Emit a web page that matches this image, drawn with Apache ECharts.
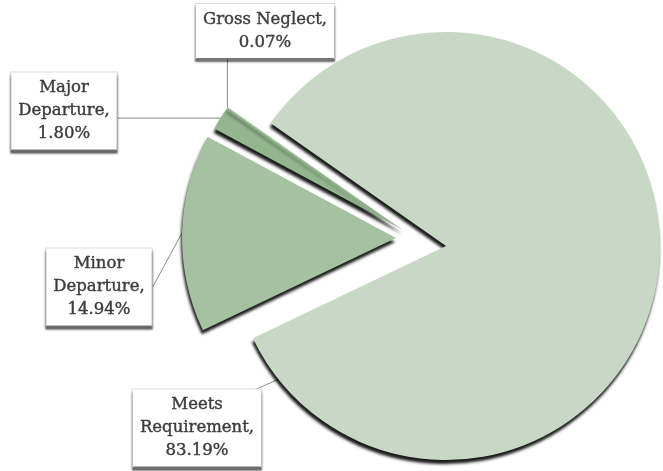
<!DOCTYPE html>
<html><head><meta charset="utf-8">
<script src="https://cdn.jsdelivr.net/npm/echarts@6/dist/echarts.min.js"></script>
<style>html,body{margin:0;padding:0;background:#fff}#c{width:663px;height:471px}</style>
</head><body><div id="c"></div>
<script>
// ---- data ----
const categories = ['Meets Requirement', 'Minor Departure', 'Major Departure', 'Gross Neglect'];
const values = [83.19, 14.94, 1.80, 0.07];
const breakName = [true, true, true, false];

// ---- styling / layout ----
const colors = ['#c7d8c5', '#a4c2a0', '#93b68e', '#93b68e'];
const groups = [[0], [1], [2, 3]];
const centers = [[446, 246], [396, 238], [403, 230]];
const pieRadius = 214;
const boxCenters = [[197, 428], [99, 287], [64, 111], [265, 31]];

function labelText(i) {
  const n = breakName[i] ? categories[i].replace(' ', '\n') : categories[i];
  return n + ',\n' + values[i].toFixed(2) + '%';
}

const chart = echarts.init(document.getElementById('c'), null, {renderer: 'canvas'});

const series = groups.map((grp, gi) => ({
  type: 'pie',
  center: centers[gi],
  radius: pieRadius,
  startAngle: 145,
  clockwise: true,
  silent: true,
  animation: false,
  avoidLabelOverlap: false,
  emphasis: {disabled: true},
  data: categories.map((name, i) => {
    const vis = grp.indexOf(i) >= 0;
    return {
      name: name,
      value: values[i],
      itemStyle: vis ? {
        color: colors[i],
        shadowColor: 'rgba(0,0,0,0.9)',
        shadowBlur: 3,
        shadowOffsetX: -1,
        shadowOffsetY: 4
      } : {color: 'rgba(0,0,0,0)', shadowColor: 'rgba(0,0,0,0)'},
      label: {show: vis},
      labelLine: {show: vis}
    };
  }),
  label: {
    position: 'outside',
    formatter: p => labelText(p.dataIndex),
    fontFamily: 'DejaVu Serif',
    fontSize: 16.5,
    lineHeight: 23,
    color: '#3c3c3c',
    textBorderColor: '#3c3c3c',
    textBorderWidth: 0.4,
    align: 'center',
    backgroundColor: '#ffffff',
    borderColor: '#dadada',
    borderWidth: 1,
    padding: [4, 7, 4, 7],
    shadowColor: 'rgba(0,0,0,0.5)',
    shadowBlur: 2,
    shadowOffsetY: 3
  },
  labelLine: {
    show: true,
    length: 10,
    length2: 0,
    lineStyle: {color: '#8c8c8c', width: 1}
  },
  labelLayout: function (params) {
    const i = params.dataIndex;
    const c = boxCenters[i];
    const w = params.labelRect.width, h = params.labelRect.height;
    const out = {x: c[0], y: c[1], align: 'center', verticalAlign: 'middle'};
    const a = params.labelLinePoints ? params.labelLinePoints[0] : null;
    if (i === 3 && a) {
      out.labelLinePoints = [[a[0], a[1]], [a[0], c[1] + h / 2]];
    } else if (i === 2 && a) {
      out.labelLinePoints = [[a[0], a[1]], [c[0] + w / 2, a[1]]];
    } else if (i === 1 && a) {
      out.labelLinePoints = [[a[0], a[1]], [c[0] + w / 2, c[1]]];
    } else if (i === 0) {
      // leader from the box top toward the slice's lower-left edge
      const s = [c[0] + 36, c[1] - h / 2 + 11];
      const u = [0.913, -0.407];
      const cc = centers[0];
      const rr = pieRadius - 10;
      const fx = s[0] - cc[0], fy = s[1] - cc[1];
      const b = fx * u[0] + fy * u[1];
      const cq = fx * fx + fy * fy - rr * rr;
      const t = -b - Math.sqrt(Math.max(0, b * b - cq));
      out.labelLinePoints = [[s[0] + u[0] * t, s[1] + u[1] * t], s];
    }
    return out;
  }
}));

chart.setOption({
  animation: false,
  backgroundColor: '#ffffff',
  series: series
});
</script>
</body></html>
